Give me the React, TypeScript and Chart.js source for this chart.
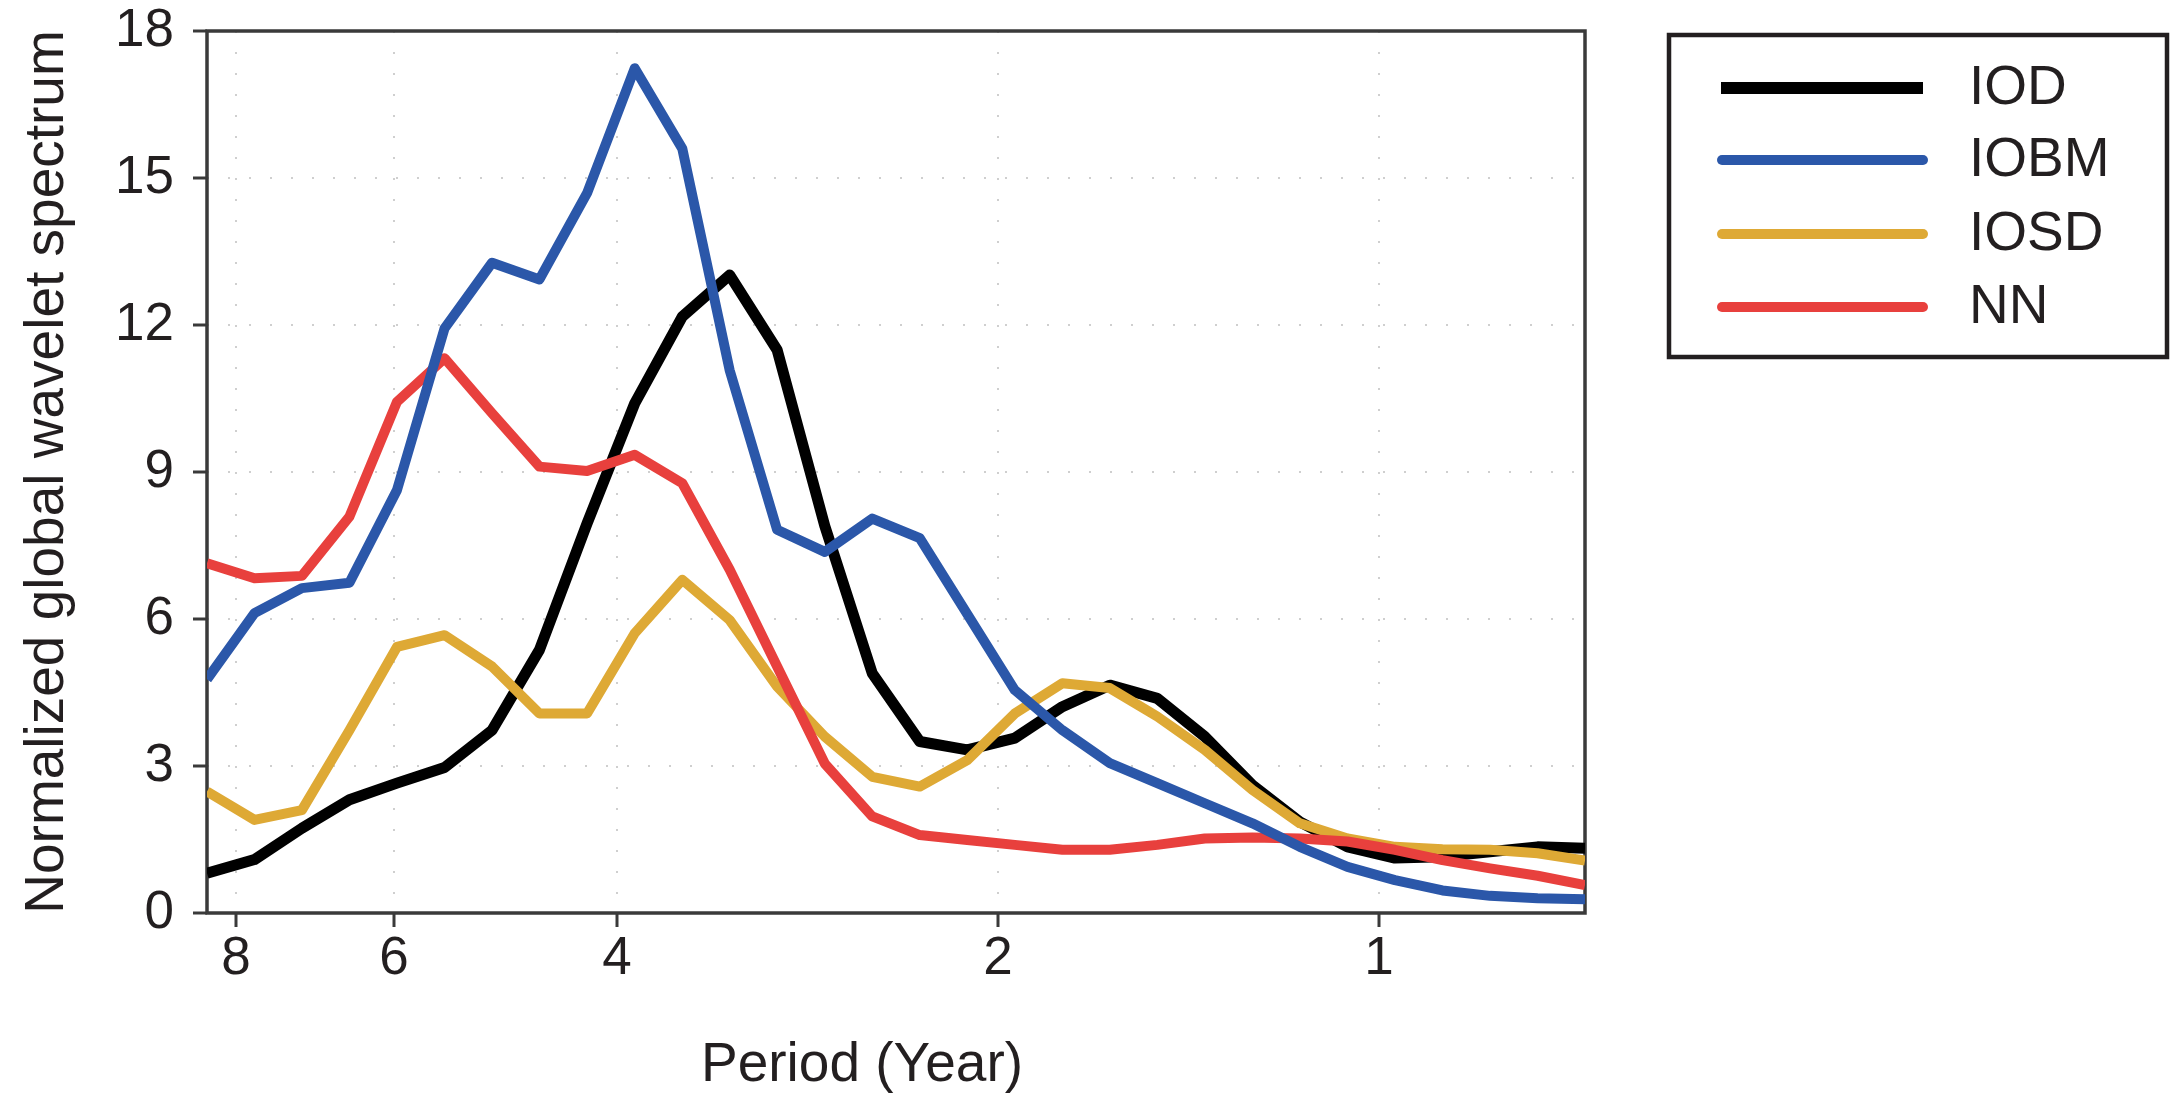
import React, { useEffect, useRef } from 'react';
import { Chart, registerables } from 'chart.js';

Chart.register(...registerables);

// Period (years) of each sample of the global wavelet spectrum
const periods = [
  8.433, 7.735, 7.096, 6.508, 5.969, 5.474, 5.021, 4.606, 4.224, 3.873,
  3.552, 3.259, 2.989, 2.741, 2.514, 2.306, 2.115, 1.94, 1.779, 1.632,
  1.497, 1.373, 1.259, 1.155, 1.059, 0.9715, 0.891, 0.8171, 0.7494, 0.6875,
];

const iod = [
  0.81, 1.09, 1.73, 2.31, 2.65, 2.97, 3.73, 5.37, 7.95, 10.4,
  12.17, 13.02, 11.49, 7.9, 4.89, 3.5, 3.33, 3.57, 4.21, 4.65,
  4.38, 3.6, 2.61, 1.86, 1.35, 1.12, 1.15, 1.25, 1.35, 1.32,
];

const iobm = [
  4.77, 6.12, 6.63, 6.74, 8.63, 11.93, 13.27, 12.93, 14.69, 17.24,
  15.6, 11.08, 7.82, 7.37, 8.05, 7.65, 6.1, 4.55, 3.73, 3.06,
  2.65, 2.24, 1.83, 1.35, 0.94, 0.67, 0.46, 0.35, 0.3, 0.28,
];

const iosd = [
  2.48, 1.9, 2.1, 3.73, 5.43, 5.67, 5.03, 4.07, 4.07, 5.71,
  6.8, 5.98, 4.62, 3.6, 2.78, 2.58, 3.12, 4.07, 4.69, 4.59,
  4.01, 3.33, 2.51, 1.83, 1.52, 1.35, 1.3, 1.29, 1.22, 1.07,
];

const nn = [
  7.14, 6.83, 6.88, 8.09, 10.43, 11.32, 10.2, 9.11, 9.02, 9.35,
  8.77, 7.01, 5.03, 3.05, 1.97, 1.59, 1.49, 1.39, 1.29, 1.29,
  1.39, 1.52, 1.54, 1.52, 1.46, 1.29, 1.08, 0.91, 0.76, 0.57,
];

const seriesLabels = ['IOD', 'IOBM', 'IOSD', 'NN'];
const seriesColors = ['#000000', '#2b57a9', '#dea935', '#e8403d'];
const xTickValues = [8, 6, 4, 2, 1];
const yTickMin = 0;
const yTickMax = 18;
const yTickStep = 3;
const xTitle = 'Period (Year)';
const yTitle = 'Normalized global wavelet spectrum';

const W = 2173;
const H = 1107;
const TEXT = '#231f20';
const FRAME = '#3a3a3a';
const FONT = '"Liberation Sans", Arial, sans-serif';

const framePlugin = {
  id: 'frameBox',
  beforeDatasetsDraw(chart: any) {
    const { ctx, chartArea } = chart;
    ctx.save();
    ctx.strokeStyle = FRAME;
    ctx.lineWidth = 3.5;
    ctx.strokeRect(chartArea.left, chartArea.top, chartArea.right - chartArea.left, chartArea.bottom - chartArea.top);
    ctx.restore();
  },
};

const extrasPlugin = {
  id: 'extras',
  afterDraw(chart: any) {
    const ctx = chart.ctx;
    ctx.save();
    // x-axis title
    ctx.fillStyle = TEXT;
    ctx.font = `55px ${FONT}`;
    ctx.textAlign = 'center';
    ctx.textBaseline = 'middle';
    ctx.fillText(xTitle, 862, 1066);

    // legend box
    ctx.strokeStyle = TEXT;
    ctx.lineWidth = 4.5;
    ctx.strokeRect(1669, 35, 498, 322);
    const rows = [88, 160, 234, 307];
    chart.data.datasets.forEach((ds: any, i: number) => {
      ctx.beginPath();
      ctx.strokeStyle = ds.borderColor;
      ctx.lineWidth = i === 0 ? 12 : 10;
      ctx.lineCap = i === 0 ? 'butt' : 'round';
      ctx.moveTo(i === 0 ? 1721 : 1722, rows[i]);
      ctx.lineTo(1923, rows[i]);
      ctx.stroke();
      ctx.fillStyle = TEXT;
      ctx.font = `55px ${FONT}`;
      ctx.textAlign = 'left';
      ctx.textBaseline = 'middle';
      ctx.fillText(ds.label, 1969, rows[i] + 1);
    });
    ctx.restore();
  },
};

export default function App() {
  const canvasRef = useRef<HTMLCanvasElement | null>(null);

  useEffect(() => {
    document.body.style.margin = '0';
    const canvas = canvasRef.current;
    if (!canvas) return;
    const seriesValues = [iod, iobm, iosd, nn];
    const drawOrder = [3, 0, 2, 1];
    const chart = new Chart(canvas, {
      type: 'line',
      data: {
        datasets: seriesValues.map((vals, i) => ({
          label: seriesLabels[i],
          data: periods.map((p, j) => ({ x: p, y: vals[j] })),
          borderColor: seriesColors[i],
          backgroundColor: seriesColors[i],
          borderWidth: i === 0 ? 11 : 10,
          pointRadius: 0,
          tension: 0,
          borderJoinStyle: 'round',
          borderCapStyle: 'butt',
          fill: false,
          order: drawOrder[i],
        })),
      },
      options: {
        responsive: false,
        devicePixelRatio: 1,
        animation: false,
        events: [],
        layout: { padding: { left: 0, right: W - 1585, top: 31, bottom: 0 } },
        plugins: {
          legend: { display: false },
          tooltip: { enabled: false },
        },
        scales: {
          x: {
            type: 'logarithmic',
            reverse: true,
            min: periods[periods.length - 1],
            max: periods[0],
            afterBuildTicks: (scale: any) => {
              scale.ticks = xTickValues.map((v) => ({ value: v }));
            },
            afterFit: (scale: any) => {
              scale.height = H - 913;
              scale.paddingLeft = 0;
              scale.paddingRight = 0;
            },
            border: { display: false, dash: [2, 19] },
            grid: {
              color: '#cfcfcf',
              lineWidth: 2,
              tickLength: 14,
              tickColor: FRAME,
              tickWidth: 3,
              tickBorderDash: [],
            },
            ticks: {
              autoSkip: false,
              maxRotation: 0,
              minRotation: 0,
              padding: 1,
              color: TEXT,
              font: { family: FONT, size: 53 },
              callback: (v: any) => String(v),
            },
          },
          y: {
            type: 'linear',
            min: yTickMin,
            max: yTickMax,
            afterFit: (scale: any) => {
              scale.width = 207;
              scale.paddingTop = 0;
              scale.paddingBottom = 0;
            },
            border: { display: false, dash: [2, 19] },
            grid: {
              color: '#cfcfcf',
              lineWidth: 2,
              tickLength: 14,
              tickColor: FRAME,
              tickWidth: 3,
              tickBorderDash: [],
            },
            ticks: {
              stepSize: yTickStep,
              padding: 19,
              color: TEXT,
              font: { family: FONT, size: 53 },
            },
            title: {
              display: true,
              text: yTitle,
              color: TEXT,
              font: { family: FONT, size: 55 },
              padding: { top: 15, bottom: 0 },
            },
          },
        },
      },
      plugins: [framePlugin, extrasPlugin],
    } as any);
    return () => chart.destroy();
  }, []);

  return (
    <div style={{ width: W, height: H, background: '#ffffff' }}>
      <canvas ref={canvasRef} width={W} height={H} style={{ display: 'block', width: W, height: H }} />
    </div>
  );
}
